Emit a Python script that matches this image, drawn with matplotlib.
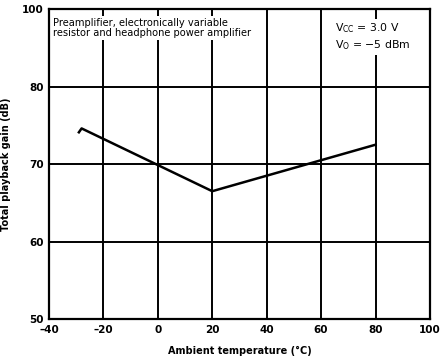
import matplotlib
matplotlib.use("Agg")
import matplotlib.pyplot as plt

# readings
temps = [-29, -28, 20, 80]
gain = [74.1, 74.6, 66.5, 72.5]

x_ticks = [-40, -20, 0, 20, 40, 60, 80, 100]
y_ticks = [50, 60, 70, 80, 90]
y_labels = ["50", "60", "70", "80", "100"]  # datasheet labels the top line 100

plt.rcParams['font.family'] = ['DejaVu Sans']

fig = plt.figure(figsize=(4.41, 3.63), dpi=100)
ax = fig.add_axes([0.111, 0.121, 0.864, 0.854])

ax.set_xlim(-40, 100)
ax.set_ylim(50, 90)
ax.set_xticks(x_ticks)
ax.set_xticklabels([str(t).replace("-", "\u2013") for t in x_ticks], fontsize=7.5, fontweight='bold')
ax.set_yticks(y_ticks)
ax.set_yticklabels(y_labels, fontsize=7.5, fontweight='bold')
ax.tick_params(length=0, pad=4)

ax.grid(True, color='black', linewidth=1.4)
ax.set_axisbelow(True)
for s in ax.spines.values():
    s.set_linewidth(1.6)

ax.plot(temps, gain, color='black', linewidth=1.8, zorder=3)

ax.set_xlabel("Ambient temperature (\u00b0C)", fontsize=7, fontweight='bold', labelpad=8)
ax.set_ylabel("Total playback gain (dB)", fontsize=7, fontweight='bold', labelpad=8)

ax.text(-38.5, 88.9, "Preamplifier, electronically variable\nresistor and headphone power amplifier",
        fontsize=7.1, va='top', ha='left', linespacing=1.0,
        bbox=dict(facecolor='white', edgecolor='none', pad=1.5), zorder=4)
ax.text(65, 88.4, "V$_{\\mathregular{CC}}$ = 3.0 V\nV$_{\\mathregular{O}}$ = \u22125 dBm",
        fontsize=7.8, va='top', ha='left', linespacing=1.3,
        bbox=dict(facecolor='white', edgecolor='none', pad=2), zorder=4)

fig.savefig("out.png", dpi=100)
